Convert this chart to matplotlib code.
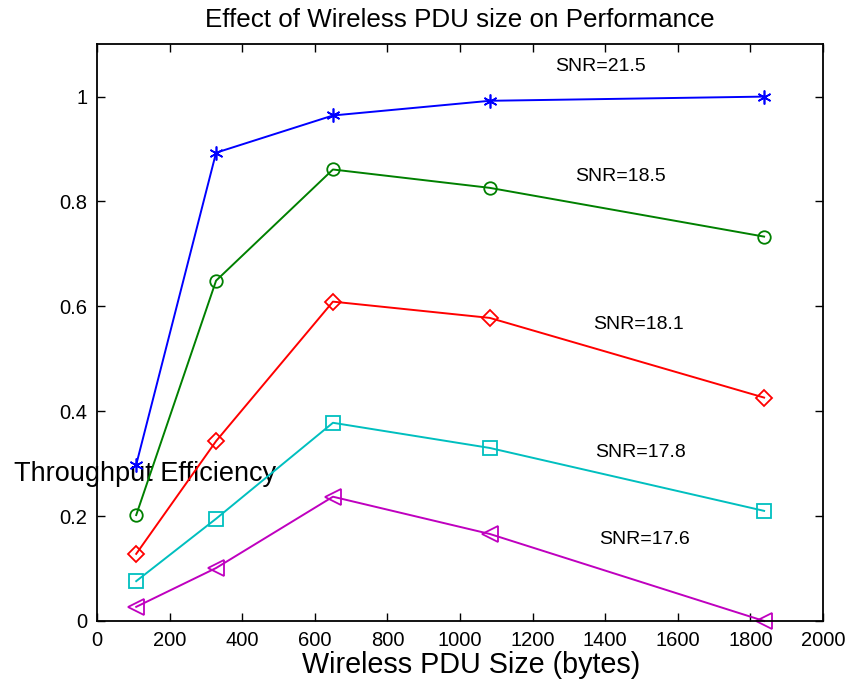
import matplotlib
matplotlib.use("Agg")
import matplotlib.pyplot as plt

plt.rcParams['font.family'] = ['Liberation Sans', 'DejaVu Sans']

pdu_size = [108, 328, 650, 1082, 1838]

snr_21_5 = [0.298, 0.893, 0.964, 0.992, 1.000]
snr_18_5 = [0.202, 0.649, 0.861, 0.826, 0.733]
snr_18_1 = [0.128, 0.343, 0.609, 0.578, 0.426]
snr_17_8 = [0.076, 0.195, 0.378, 0.330, 0.210]
snr_17_6 = [0.027, 0.101, 0.237, 0.166, 0.000]

labels = ["SNR=21.5", "SNR=18.5", "SNR=18.1", "SNR=17.8", "SNR=17.6"]
label_x = [1386, 1443, 1493, 1498, 1509]
label_y = [1.057, 0.847, 0.565, 0.321, 0.156]

fig = plt.figure(figsize=(8.51, 6.9), dpi=100)
ax = fig.add_axes([0.114, 0.1, 0.853, 0.836])

ax.plot(pdu_size, snr_21_5, color='#0000ff', marker=(6, 2, 0), markersize=10,
        markeredgewidth=1.2, lw=1.4, clip_on=False)
ax.plot(pdu_size, snr_18_5, color='#008000', marker='o', markersize=9,
        markerfacecolor='none', markeredgewidth=1.3, lw=1.4, clip_on=False)
ax.plot(pdu_size, snr_18_1, color='#ff0000', marker='D', markersize=8,
        markerfacecolor='none', markeredgewidth=1.3, lw=1.4, clip_on=False)
ax.plot(pdu_size, snr_17_8, color='#00bfbf', marker='s', markersize=10,
        markerfacecolor='none', markeredgewidth=1.3, lw=1.4, clip_on=False)
ax.plot(pdu_size, snr_17_6, color='#bf00bf', marker='<', markersize=12,
        markerfacecolor='none', markeredgewidth=1.3, lw=1.4, clip_on=False)

for txt, x, y in zip(labels, label_x, label_y):
    ax.text(x, y, txt, ha='center', va='center', fontsize=14)

ax.set_xlim(0, 2000)
ax.set_ylim(0, 1.1)
ax.set_xticks(range(0, 2001, 200))
ax.set_yticks([0, 0.2, 0.4, 0.6, 0.8, 1])
ax.set_yticklabels(['0', '0.2', '0.4', '0.6', '0.8', '1'])
ax.tick_params(direction='in', top=True, right=True, length=6, width=1,
               labelsize=14.5, pad=7)
for s in ax.spines.values():
    s.set_linewidth(1.3)

ax.set_title("Effect of Wireless PDU size on Performance", fontsize=18.7, pad=12)
ax.set_xlabel("Wireless PDU Size (bytes)", fontsize=20.7, va='center')
ax.xaxis.set_label_coords(0.515, -0.076)
ax.set_ylabel("Throughput Efficiency", fontsize=19.5, rotation=0, ha='center', va='center')
ax.yaxis.set_label_coords(0.066, 0.255)

fig.savefig("out.png", dpi=100)
